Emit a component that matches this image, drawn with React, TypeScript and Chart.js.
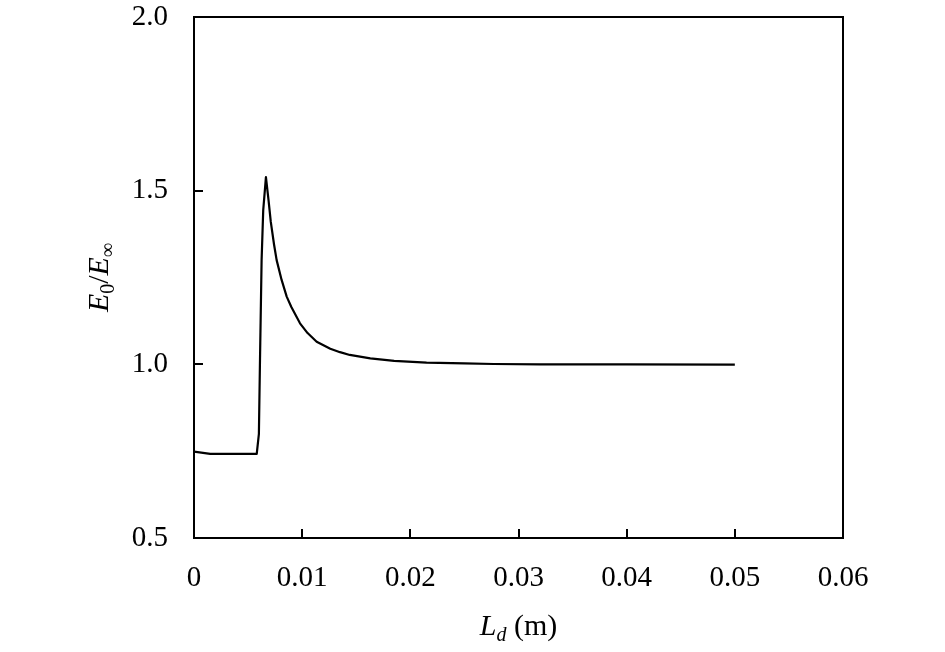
import { useEffect, useRef } from "react"
import { Chart, registerables } from "chart.js"

Chart.register(...registerables)

// Ld (m) vs E0/E∞
const ldValues = [
  0, 0.0015, 0.0058, 0.006, 0.0061, 0.00625, 0.0064, 0.00665, 0.0069, 0.0071, 0.0074,
  0.00764, 0.0081, 0.00857, 0.009, 0.0098, 0.0105, 0.01134, 0.0126, 0.0135, 0.0144, 0.0163,
  0.0185, 0.0215, 0.025, 0.0277, 0.032, 0.04, 0.05,
]
const ratioValues = [
  0.749, 0.742, 0.742, 0.8, 1.01, 1.3, 1.444, 1.539, 1.47, 1.41, 1.345,
  1.3, 1.243, 1.195, 1.165, 1.118, 1.09, 1.065, 1.045, 1.035, 1.027, 1.017,
  1.01, 1.005, 1.003, 1.001, 1.0, 1.0, 0.999,
]
const xTicks = [0, 0.01, 0.02, 0.03, 0.04, 0.05, 0.06]
const yTicks = [0.5, 1.0, 1.5, 2.0]

const FONT = '"Liberation Serif", "Times New Roman", serif'

// box, inward ticks and the axis titles with subscripts
const framePlugin = {
  id: "frame",
  afterDraw(chart: any) {
    const { ctx, chartArea } = chart
    const { left, right, top, bottom } = chartArea
    const xs = chart.scales.x
    const ys = chart.scales.y
    ctx.save()
    ctx.strokeStyle = "#000"
    ctx.lineWidth = 2
    ctx.strokeRect(left, top, right - left, bottom - top)
    ctx.beginPath()
    xTicks.forEach((v) => {
      const px = Math.round(xs.getPixelForValue(v))
      ctx.moveTo(px, bottom)
      ctx.lineTo(px, bottom - 9)
    })
    yTicks.forEach((v) => {
      const py = Math.round(ys.getPixelForValue(v))
      ctx.moveTo(left, py)
      ctx.lineTo(left + 9, py)
    })
    ctx.stroke()

    ctx.fillStyle = "#000"
    ctx.textBaseline = "alphabetic"

    // x title: L_d (m)
    const bigI = `italic 30px ${FONT}`
    const smallI = `italic 20px ${FONT}`
    const big = `30px ${FONT}`
    ctx.font = bigI
    const wL = ctx.measureText("L").width
    ctx.font = smallI
    const wd = ctx.measureText("d").width
    ctx.font = big
    const wm = ctx.measureText(" (m)").width
    let x = (left + right) / 2 - (wL + wd + wm) / 2
    const yb = 635
    ctx.font = bigI
    ctx.fillText("L", x, yb)
    x += wL
    ctx.font = smallI
    ctx.fillText("d", x, yb + 6)
    x += wd
    ctx.font = big
    ctx.fillText(" (m)", x, yb)

    // y title: E0/E∞, rotated
    ctx.translate(108, (top + bottom) / 2)
    ctx.rotate(-Math.PI / 2)
    const small = `20px ${FONT}`
    const parts: [string, string, number][] = [
      ["E", bigI, 0],
      ["0", small, 6],
      ["/", big, 0],
      ["E", bigI, 0],
      ["\u221E", small, 6],
    ]
    let total = 0
    parts.forEach(([t, f]) => {
      ctx.font = f
      total += ctx.measureText(t).width
    })
    let px = -total / 2
    parts.forEach(([t, f, dy]) => {
      ctx.font = f
      ctx.fillText(t, px, dy)
      px += ctx.measureText(t).width
    })
    ctx.restore()
  },
}

export default function App() {
  const chartRef = useRef<HTMLCanvasElement>(null)
  const chartInstance = useRef<Chart | null>(null)

  useEffect(() => {
    document.body.style.margin = "0"
    if (!chartRef.current) return
    const ctx = chartRef.current.getContext("2d")
    if (!ctx) return

    const points = ldValues.map((v, i) => ({ x: v, y: ratioValues[i] }))

    chartInstance.current = new Chart(ctx, {
      type: "line",
      data: {
        datasets: [
          {
            label: "E0/E∞",
            data: points,
            borderColor: "#000",
            borderWidth: 2.2,
            borderJoinStyle: "round",
            pointRadius: 0,
            tension: 0,
            fill: false,
          },
        ],
      },
      options: {
        animation: false,
        responsive: false,
        layout: { padding: { left: 0, top: 17, right: 102, bottom: 0 } },
        plugins: {
          legend: { display: false },
          tooltip: { enabled: false },
        },
        scales: {
          x: {
            type: "linear",
            min: 0,
            max: 0.06,
            afterFit: (scale: any) => {
              scale.height = 114
              scale.paddingLeft = 0
              scale.paddingRight = 0
            },
            afterBuildTicks: (scale: any) => {
              scale.ticks = xTicks.map((v) => ({ value: v }))
            },
            grid: { display: false, drawTicks: false },
            border: { display: false },
            ticks: {
              padding: 23,
              color: "#000",
              font: { family: FONT, size: 29 },
              callback: (v: any) => (Number(v) === 0 ? "0" : Number(v).toFixed(2)),
            },
          },
          y: {
            type: "linear",
            min: 0.5,
            max: 2.0,
            afterFit: (scale: any) => {
              scale.width = 194
              scale.paddingTop = 0
              scale.paddingBottom = 0
            },
            afterBuildTicks: (scale: any) => {
              scale.ticks = yTicks.map((v) => ({ value: v }))
            },
            grid: { display: false, drawTicks: false },
            border: { display: false },
            ticks: {
              padding: 26,
              color: "#000",
              font: { family: FONT, size: 29 },
              callback: (v: any) => Number(v).toFixed(1),
            },
          },
        },
      },
      plugins: [framePlugin],
    })

    return () => {
      if (chartInstance.current) {
        chartInstance.current.destroy()
        chartInstance.current = null
      }
    }
  }, [])

  return <canvas ref={chartRef} width={945} height={652} style={{ display: "block" }} />
}
